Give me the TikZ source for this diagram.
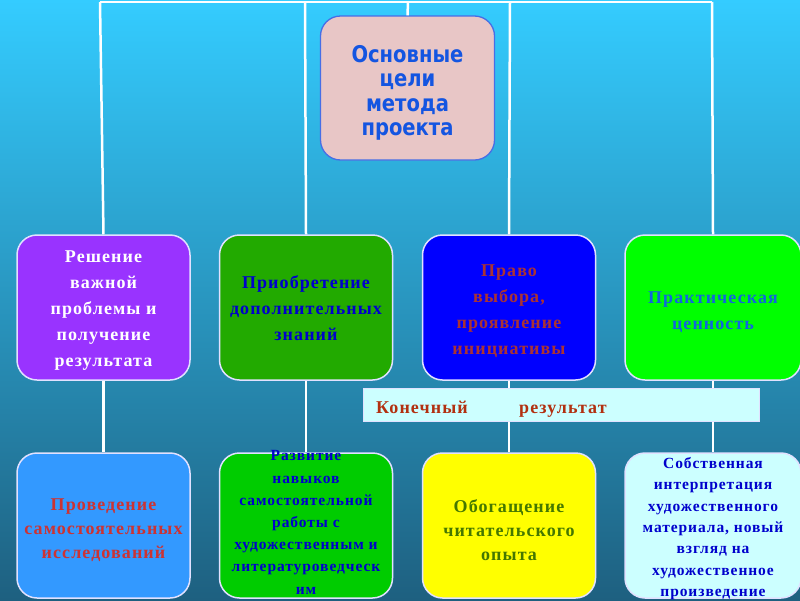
\documentclass[tikz,border=0pt]{standalone}
\usepackage{fontspec}
\setmainfont{Liberation Serif}[LetterSpace=6]
\newfontfamily\condsans[FakeStretch=0.85]{DejaVu Sans}
\definecolor{bgtop}{RGB}{52,204,255}
\definecolor{bgbot}{RGB}{30,96,128}
\definecolor{cpurple}{RGB}{153,51,255}
\definecolor{cgreenA}{RGB}{34,170,0}
\definecolor{cblue}{RGB}{0,0,255}
\definecolor{clime}{RGB}{0,255,0}
\definecolor{cskyblue}{RGB}{51,153,255}
\definecolor{cgreenB}{RGB}{0,204,0}
\definecolor{cyellow}{RGB}{255,255,0}
\definecolor{clightcyan}{RGB}{204,255,255}
\definecolor{cpink}{RGB}{232,198,198}
\definecolor{cpinkborder}{RGB}{70,110,230}
\definecolor{ctitle}{RGB}{20,85,225}
\definecolor{tdarkblue}{RGB}{0,0,204}
\definecolor{tbrown}{RGB}{170,51,51}
\definecolor{tmidblue}{RGB}{17,102,221}
\definecolor{tred}{RGB}{204,51,51}
\definecolor{tolive}{RGB}{68,119,0}
\definecolor{tbar}{RGB}{178,48,16}
\definecolor{cborder}{RGB}{225,225,255}
\tikzset{
  goalbox/.style={rounded corners=20pt, draw=cborder, line width=1.5pt,
    minimum width=173pt, minimum height=145pt, inner sep=0pt},
  goaltext/.style={align=center, inner sep=0pt,
    font=\fontsize{18}{26}\selectfont\bfseries},
  lowtext/.style={align=center, inner sep=0pt,
    font=\fontsize{18}{24}\selectfont\bfseries},
  smalltext/.style={align=center, inner sep=0pt,
    font=\fontsize{15.5}{22.2}\selectfont\bfseries},
  smallertext/.style={align=center, inner sep=0pt,
    font=\fontsize{15.5}{21.4}\selectfont\bfseries},
  wire/.style={draw=white, line width=2.5pt},
  bartext/.style={anchor=base west, inner sep=0pt, text=tbar,
    font=\fontsize{18}{22}\selectfont\bfseries}
}
\begin{document}
\begin{tikzpicture}[x=1pt,y=-1pt]
\useasboundingbox (0,0) rectangle (800,600);
\shade[top color=bgtop, bottom color=bgbot] (0,0) rectangle (800,600);
% coordinates on the top line
\coordinate (t1) at (100,2);
\coordinate (t2) at (305,2);
\coordinate (t0) at (408,2);
\coordinate (t3) at (510,2);
\coordinate (t4) at (712,2);
% boxes
\node[rounded corners=20pt, draw=cpinkborder, fill=cpink, line width=1.3pt,
  minimum width=174pt, minimum height=144pt] (root) at (407.5,88) {};
\node[goalbox, fill=cpurple] (a1) at (103.5,307.5) {};
\node[goalbox, fill=cgreenA] (a2) at (306,307.5) {};
\node[goalbox, fill=cblue] (a3) at (509,307.5) {};
\node[goalbox, fill=clime, minimum width=176pt] (a4) at (713,307.5) {};
\node[goalbox, fill=cskyblue] (b1) at (103.5,525.5) {};
\node[goalbox, fill=cgreenB] (b2) at (306,525.5) {};
\node[goalbox, fill=cyellow] (b3) at (509,525.5) {};
\node[goalbox, fill=clightcyan, minimum width=176pt] (b4) at (713,525.5) {};
% lines
\draw[wire] (t1) -- (t4);
\draw[wire] (t0) -- (root.north);
\draw[wire] (t1) -- (a1.north);
\draw[wire] (t2) -- (a2.north);
\draw[wire] (t3) -- (a3.north);
\draw[wire] (t4) -- (a4.north);
\draw[wire] (a1.south) -- (b1.north);
\draw[wire] (a2.south) -- (b2.north);
\draw[wire] (a3.south) -- (b3.north);
\draw[wire] (a4.south) -- (b4.north);
% texts
\node[align=center, inner sep=0pt, text=ctitle,
  font=\condsans\bfseries\fontsize{23}{24.4}\selectfont] (rootlabel) at ([yshift=-5pt]root.center)
  {Основные\\цели\\метода\\проекта};
\node[goaltext, text=white] (a1label) at ([yshift=-3.5pt]a1.center)
  {Решение\\важной\\проблемы и\\получение\\результата};
\node[goaltext, text=tdarkblue] (a2label) at ([yshift=-0.5pt]a2.center)
  {Приобретение\\дополнительных\\знаний};
\node[goaltext, text=tbrown] (a3label) at ([yshift=-4pt]a3.center)
  {Право\\выбора,\\проявление\\инициативы};
\node[goaltext, text=tmidblue] (a4label) at ([yshift=-4.5pt]a4.center)
  {Практическая\\ценность};
\node[lowtext, text=tred] (b1label) at ([yshift=-5pt]b1.center)
  {Проведение\\самостоятельных\\исследований};
\node[smalltext, text=tdarkblue] (b2label) at ([yshift=3pt]b2.center)
  {Развитие\\навыков\\самостоятельной\\работы с\\художественным и\\литературоведческ\\им};
\node[lowtext, text=tolive] (b3label) at ([yshift=-5pt]b3.center)
  {Обогащение\\читательского\\опыта};
\node[smallertext, text=tdarkblue] (b4label) at ([yshift=-3pt]b4.center)
  {Собственная\\интерпретация\\художественного\\материала, новый\\взгляд на\\художественное\\произведение};
% bar
\node[draw=cborder, fill=clightcyan, line width=0.8pt, minimum width=396pt,
  minimum height=33pt, inner sep=0pt] (bar) at (561,404.5) {};
\node[bartext] (k1) at (376,413) {Конечный};
\node[bartext] (k2) at (519,413) {результат};
\end{tikzpicture}
\end{document}
